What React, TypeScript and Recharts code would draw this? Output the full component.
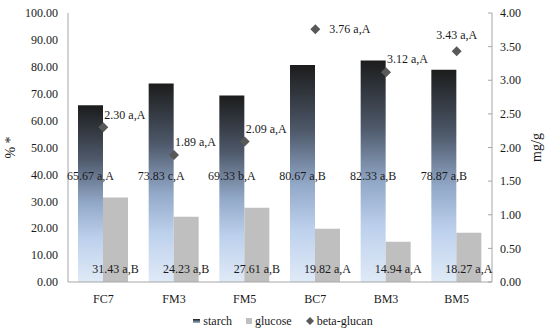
import React from 'react'
import { ComposedChart, Bar, Line, XAxis, YAxis, Legend, LabelList } from 'recharts'

const CATEGORIES = ['FC7', 'FM3', 'FM5', 'BC7', 'BM3', 'BM5']
const STARCH = [65.67, 73.83, 69.33, 80.67, 82.33, 78.87]
const STARCH_SIG = ['a,A', 'c,A', 'b,A', 'a,B', 'a,B', 'a,B']
const GLUCOSE = [31.43, 24.23, 27.61, 19.82, 14.94, 18.27]
const GLUCOSE_SIG = ['a,B', 'a,B', 'a,B', 'a,A', 'a,A', 'a,A']
const BETA = [2.3, 1.89, 2.09, 3.76, 3.12, 3.43]
const BETA_SIG = ['a,A', 'a,A', 'a,A', 'a,A', 'a,A', 'a,A']
const LEFT_TICKS = [0, 10, 20, 30, 40, 50, 60, 70, 80, 90, 100]
const RIGHT_TICKS = [0, 0.5, 1, 1.5, 2, 2.5, 3, 3.5, 4]

// where each beta-glucan label sits relative to its marker
const BETA_LABEL_SPOT = ['ne', 'ne', 'ne', 'e', 'ne', 'n']

const FONT = 'Liberation Serif, Tinos, Times New Roman, serif'
const AXIS_GRAY = '#a6a6a6'
const TEXT = '#1a1a1a'

const data = CATEGORIES.map((name, i) => ({
  name,
  starch: STARCH[i],
  glucose: GLUCOSE[i],
  beta: BETA[i],
  starchLabel: `${STARCH[i].toFixed(2)} ${STARCH_SIG[i]}`,
  glucoseLabel: `${GLUCOSE[i].toFixed(2)} ${GLUCOSE_SIG[i]}`,
  betaLabel: `${BETA[i].toFixed(2)} ${BETA_SIG[i]}`,
  spot: BETA_LABEL_SPOT[i],
}))

// label drawn at a fixed level (in axis units) inside the bar
const levelLabel = (key: 'starch' | 'glucose', level: number) => (props: any) => {
  const { x, y, width, height, value, index } = props
  const raw = data[index] ? data[index][key] : 1
  const perUnit = height / raw
  const ly = y + height - level * perUnit
  return (
    <text x={x + width / 2} y={ly} dy="0.35em" textAnchor="middle" fontSize={12} style={{ fontFamily: FONT }} fill={TEXT}>
      {value}
    </text>
  )
}

const Diamond = (props: any) => {
  const { cx, cy } = props
  if (cx == null || cy == null) return null
  const s = 5
  return <path d={`M${cx},${cy - s}L${cx + s},${cy}L${cx},${cy + s}L${cx - s},${cy}Z`} fill="#595959" />
}

const BetaLabel = (props: any) => {
  const { x, y, value, index } = props
  const spot = data[index]?.spot
  let dx = 1, dy = -13, anchor: 'start' | 'middle' = 'start'
  if (spot === 'e') { dx = 14; dy = 0 }
  if (spot === 'n') { dx = 0; dy = -17; anchor = 'middle' }
  return (
    <text x={x + dx} y={y + dy} dy="0.35em" textAnchor={anchor} fontSize={12} style={{ fontFamily: FONT }} fill={TEXT}>
      {value}
    </text>
  )
}

const RightTick = (props: any) => {
  const { x, y, payload } = props
  const axisX = x - 8
  return (
    <g>
      <line x1={axisX - 4} y1={y} x2={axisX} y2={y} stroke={AXIS_GRAY} />
      <text x={x} y={y} dy="0.35em" textAnchor="start" fontSize={12} style={{ fontFamily: FONT }} fill={TEXT}>
        {Number(payload.value).toFixed(2)}
      </text>
    </g>
  )
}

const LegendBox = () => (
  <div style={{ display: 'flex', justifyContent: 'center', alignItems: 'center', height: 16, paddingLeft: 16, fontFamily: FONT, fontSize: 12, color: TEXT }}>
    <span style={{ display: 'inline-block', width: 7, height: 4, marginRight: 3, background: 'linear-gradient(#1c1c1c, #a4b9d7)' }} />
    <span style={{ marginRight: 14 }}>starch</span>
    <span style={{ display: 'inline-block', width: 6, height: 6, marginRight: 3, background: '#bfbfbf' }} />
    <span style={{ marginRight: 14 }}>glucose</span>
    <svg width={8} height={8} style={{ marginRight: 3 }}>
      <path d="M4,0L8,4L4,8L0,4Z" fill="#595959" />
    </svg>
    <span>beta-glucan</span>
  </div>
)

export default function App() {
  return (
    <div style={{ position: 'absolute', left: 0, top: 0, width: 550, height: 333, background: '#fff', fontFamily: FONT }}>
      <ComposedChart
        width={550}
        height={333}
        data={data}
        margin={{ top: 13, right: 0, bottom: 4, left: 0 }}
        barCategoryGap={10}
        barGap={0}
        style={{ fontFamily: FONT }}
      >
        <defs>
          <linearGradient id="starchFill" x1="0" y1="0" x2="0" y2="1">
            <stop offset="0%" stopColor="#1c1c1c" />
            <stop offset="30%" stopColor="#4d5869" />
            <stop offset="55%" stopColor="#92a8c8" />
            <stop offset="75%" stopColor="#bcd0ec" />
            <stop offset="100%" stopColor="#e0eaf7" />
          </linearGradient>
        </defs>
        <XAxis
          dataKey="name"
          height={31}
          tickLine={false}
          tickMargin={6}
          axisLine={{ stroke: AXIS_GRAY }}
          tick={{ fontSize: 12, fontFamily: FONT, fill: TEXT }}
        />
        <YAxis
          yAxisId="left"
          width={68}
          domain={[0, 100]}
          ticks={LEFT_TICKS}
          interval={0}
          tickLine={false}
          tickMargin={4}
          axisLine={{ stroke: AXIS_GRAY }}
          tickFormatter={(v: number) => v.toFixed(2)}
          tick={{ fontSize: 12, fontFamily: FONT, fill: TEXT }}
          label={{ value: '% *', angle: -90, position: 'insideLeft', offset: 10, style: { fontSize: 14, fontFamily: FONT, fill: TEXT, textAnchor: 'middle' } }}
        />
        <YAxis
          yAxisId="right"
          orientation="right"
          width={58}
          domain={[0, 4]}
          ticks={RIGHT_TICKS}
          interval={0}
          tickLine={false}
          tickSize={0}
          tickMargin={8}
          axisLine={{ stroke: AXIS_GRAY }}
          tick={<RightTick />}
          label={{ value: 'mg/g', angle: -90, position: 'insideRight', offset: 14, style: { fontSize: 14, fontFamily: FONT, fill: TEXT, textAnchor: 'middle' } }}
        />
        <Bar yAxisId="left" dataKey="starch" fill="url(#starchFill)" isAnimationActive={false}>
          <LabelList dataKey="starchLabel" content={levelLabel('starch', 39.5)} />
        </Bar>
        <Bar yAxisId="left" dataKey="glucose" fill="#bfbfbf" isAnimationActive={false}>
          <LabelList dataKey="glucoseLabel" content={levelLabel('glucose', 4.8)} />
        </Bar>
        <Line
          yAxisId="right"
          dataKey="beta"
          stroke="none"
          dot={<Diamond />}
          activeDot={false}
          isAnimationActive={false}
        >
          <LabelList dataKey="betaLabel" content={<BetaLabel />} />
        </Line>
        <Legend verticalAlign="bottom" height={16} content={<LegendBox />} />
      </ComposedChart>
    </div>
  )
}
